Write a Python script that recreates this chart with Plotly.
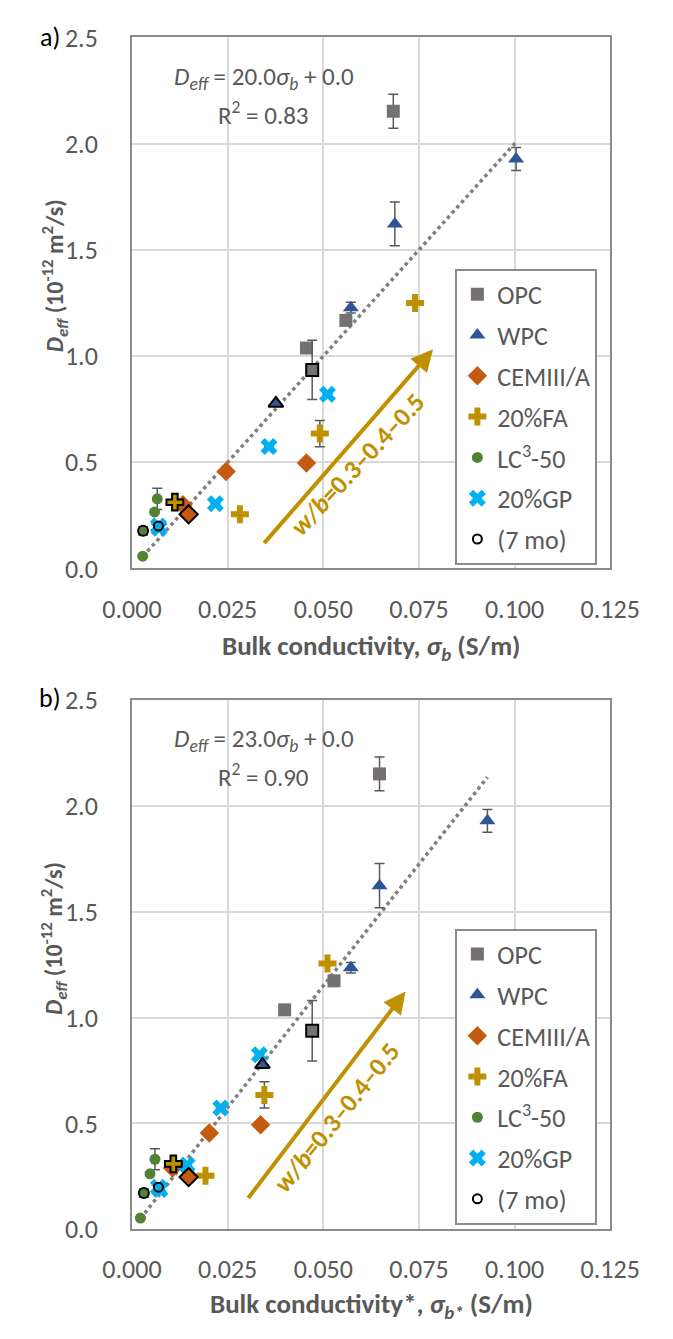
import plotly.graph_objects as go

# ---------------- data (panel a: bulk conductivity) ----------------
OPC_A_X = [0.0683, 0.0559, 0.0456]
OPC_A_Y = [2.153, 1.168, 1.038]
OPC_A_E = [0.08, 0.0, 0.0]
WPC_A_X = [0.1004, 0.0687, 0.0572]
WPC_A_Y = [1.928, 1.622, 1.228]
WPC_A_E = [0.054, 0.103, 0.025]
CEM_A_X = [0.0456, 0.0246, 0.0133]
CEM_A_Y = [0.497, 0.457, 0.300]
CEM_A_E = [0.0, 0.02, 0.0]
FA_A_X = [0.0740, 0.0491, 0.0282]
FA_A_Y = [1.250, 0.635, 0.255]
FA_A_E = [0.0, 0.062, 0.0]
LC3_A_X = [0.0066, 0.0059, 0.0028]
LC3_A_Y = [0.328, 0.266, 0.058]
LC3_A_E = [0.05, 0.0, 0.0]
GP_A_X = [0.0511, 0.0358, 0.0218, 0.0071]
GP_A_Y = [0.820, 0.574, 0.305, 0.189]
GP_A_E = [0.0, 0.0, 0.0, 0.0]
# 7-month points (one per binder)
M7_A_X = {"OPC": [0.0471], "WPC": [0.0376], "CEM": [0.0148], "FA": [0.0112], "LC3": [0.0029], "GP": [0.0069]}
M7_A_Y = {"OPC": [0.935], "WPC": [0.777], "CEM": [0.255], "FA": [0.312], "LC3": [0.177], "GP": [0.200]}
M7_A_E = {"OPC": [0.14], "WPC": [0.0], "CEM": [0.0], "FA": [0.0], "LC3": [0.02], "GP": [0.0]}

# ---------------- data (panel b: bulk conductivity*) ----------------
OPC_B_X = [0.0647, 0.0528, 0.0399]
OPC_B_Y = [2.152, 1.174, 1.037]
OPC_B_E = [0.08, 0.0, 0.0]
WPC_B_X = [0.0929, 0.0647, 0.0572]
WPC_B_Y = [1.930, 1.624, 1.236]
WPC_B_E = [0.054, 0.104, 0.025]
CEM_B_X = [0.0336, 0.0202, 0.0106]
CEM_B_Y = [0.494, 0.455, 0.290]
CEM_B_E = [0.0, 0.02, 0.0]
FA_B_X = [0.0511, 0.0346, 0.0192]
FA_B_Y = [1.256, 0.635, 0.253]
FA_B_E = [0.0, 0.062, 0.0]
LC3_B_X = [0.0060, 0.0047, 0.0022]
LC3_B_Y = [0.331, 0.262, 0.053]
LC3_B_E = [0.05, 0.0, 0.0]
GP_B_X = [0.0333, 0.0232, 0.0144, 0.0073]
GP_B_Y = [0.825, 0.573, 0.304, 0.188]
GP_B_E = [0.0, 0.0, 0.0, 0.0]
M7_B_X = {"OPC": [0.0471], "WPC": [0.0341], "CEM": [0.0148], "FA": [0.0108], "LC3": [0.0031], "GP": [0.0069]}
M7_B_Y = {"OPC": [0.938], "WPC": [0.778], "CEM": [0.247], "FA": [0.309], "LC3": [0.171], "GP": [0.199]}
M7_B_E = {"OPC": [0.143], "WPC": [0.0], "CEM": [0.0], "FA": [0.0], "LC3": [0.02], "GP": [0.0]}

SLOPE_A, R2_A = 20.0, 0.83
SLOPE_B, R2_B = 23.0, 0.90

X_TICKS = [0.000, 0.025, 0.050, 0.075, 0.100, 0.125]
Y_TICKS = [0.0, 0.5, 1.0, 1.5, 2.0, 2.5]

SERIES = ["OPC", "WPC", "CEM", "FA", "LC3", "GP"]
NAMES = {"OPC": "OPC", "WPC": "WPC", "CEM": "CEMIII/A", "FA": "20%FA",
         "LC3": "LC<sup>3</sup>-50", "GP": "20%GP"}
COLORS = {"OPC": "#767171", "WPC": "#2F5597", "CEM": "#C55A11", "FA": "#BF9000",
          "LC3": "#548235", "GP": "#00B0F0"}
SYMBOLS = {"OPC": "square", "WPC": "triangle-up", "CEM": "diamond", "FA": "cross",
           "LC3": "circle", "GP": "x"}
SIZES = {"OPC": 13, "WPC": 14, "CEM": 15, "FA": 15, "LC3": 11, "GP": 15}

FONT = "Carlito, Lato, sans-serif"
GREY = "#595959"
W, H = 673, 1339

fig = go.Figure()

panels = [
    dict(xa="x", ya="y", leg="legend",
         data={"OPC": (OPC_A_X, OPC_A_Y, OPC_A_E), "WPC": (WPC_A_X, WPC_A_Y, WPC_A_E),
               "CEM": (CEM_A_X, CEM_A_Y, CEM_A_E), "FA": (FA_A_X, FA_A_Y, FA_A_E),
               "LC3": (LC3_A_X, LC3_A_Y, LC3_A_E), "GP": (GP_A_X, GP_A_Y, GP_A_E)},
         m7=(M7_A_X, M7_A_Y, M7_A_E), slope=SLOPE_A),
    dict(xa="x2", ya="y2", leg="legend2",
         data={"OPC": (OPC_B_X, OPC_B_Y, OPC_B_E), "WPC": (WPC_B_X, WPC_B_Y, WPC_B_E),
               "CEM": (CEM_B_X, CEM_B_Y, CEM_B_E), "FA": (FA_B_X, FA_B_Y, FA_B_E),
               "LC3": (LC3_B_X, LC3_B_Y, LC3_B_E), "GP": (GP_B_X, GP_B_Y, GP_B_E)},
         m7=(M7_B_X, M7_B_Y, M7_B_E), slope=SLOPE_B),
]

for p in panels:
    # trendline through origin spanning the data
    allx = []
    for s in SERIES:
        allx += p["data"][s][0] + p["m7"][0][s]
    xmin, xmax = min(allx), max(allx)
    fig.add_trace(go.Scatter(x=[xmin, xmax], y=[p["slope"] * xmin, p["slope"] * xmax],
                             mode="lines", line=dict(color="#7F7F7F", width=3.5, dash="dot"),
                             showlegend=False, xaxis=p["xa"], yaxis=p["ya"], hoverinfo="skip"))
    for s in SERIES:
        xs, ys, es = p["data"][s]
        fig.add_trace(go.Scatter(
            x=xs, y=ys, mode="markers", name=NAMES[s], legend=p["leg"], legendgroup=s + p["leg"],
            marker=dict(symbol=SYMBOLS[s], color=COLORS[s], size=SIZES[s], line=dict(width=0)),
            error_y=dict(type="data", array=es, color=GREY, thickness=1.5, width=5, visible=True),
            xaxis=p["xa"], yaxis=p["ya"]))
    for s in SERIES:
        mx, my, me = p["m7"][0][s], p["m7"][1][s], p["m7"][2][s]
        if s == "GP":
            fig.add_trace(go.Scatter(
                x=mx, y=my, mode="markers", showlegend=False,
                marker=dict(symbol="x", color=COLORS[s], size=15, line=dict(width=0)),
                xaxis=p["xa"], yaxis=p["ya"]))
            fig.add_trace(go.Scatter(
                x=mx, y=my, mode="markers", showlegend=False,
                marker=dict(symbol="circle", color=COLORS[s], size=9, line=dict(width=2, color="black")),
                xaxis=p["xa"], yaxis=p["ya"]))
        else:
            fig.add_trace(go.Scatter(
                x=mx, y=my, mode="markers", showlegend=False,
                marker=dict(symbol=SYMBOLS[s], color=COLORS[s], size=SIZES[s] - 1,
                            line=dict(width=2, color="black")),
                error_y=dict(type="data", array=me, color=GREY, thickness=1.5, width=5, visible=True),
                xaxis=p["xa"], yaxis=p["ya"]))
    fig.add_trace(go.Scatter(
        x=[None], y=[None], mode="markers", name="(7 mo)", legend=p["leg"], legendgroup="m7" + p["leg"],
        marker=dict(symbol="circle", color="white", size=9, line=dict(width=2, color="black")),
        xaxis=p["xa"], yaxis=p["ya"]))

xdom = [112 / W, 637 / W]
ya_dom = [1 - 566 / H, 1 - 22 / H]
yb_dom = [1 - 1243 / H, 1 - 701 / H]

axis_common = dict(showgrid=True, gridcolor="#D9D9D9", gridwidth=1.5, zeroline=False,
                   showline=True, linecolor="#8C8C8C", linewidth=2, mirror=True,
                   ticks="", tickfont=dict(family=FONT, size=26, color=GREY))
legend_common = dict(x=467 / W, xanchor="left", yanchor="top", bgcolor="white",
                     bordercolor="#8C8C8C", borderwidth=2, font=dict(family=FONT, size=26, color=GREY),
                     tracegroupgap=4, itemsizing="trace")
fig.update_layout(
    width=W, height=H, margin=dict(l=0, r=0, t=0, b=0),
    paper_bgcolor="white", plot_bgcolor="white", font=dict(family=FONT, color=GREY),
    xaxis=dict(domain=xdom, anchor="y", range=[0, 0.125], tickvals=X_TICKS, tickformat=".3f",
               ticklabelstandoff=16, **axis_common),
    yaxis=dict(domain=ya_dom, anchor="x", range=[0, 2.5], tickvals=Y_TICKS, tickformat=".1f",
               ticklabelstandoff=27, **axis_common),
    xaxis2=dict(domain=xdom, anchor="y2", range=[0, 0.125], tickvals=X_TICKS, tickformat=".3f",
                ticklabelstandoff=16, **axis_common),
    yaxis2=dict(domain=yb_dom, anchor="x2", range=[0, 2.5], tickvals=Y_TICKS, tickformat=".1f",
                ticklabelstandoff=27, **axis_common),
    legend=dict(y=1 - 259 / H, **legend_common),
    legend2=dict(y=1 - 935 / H, **legend_common),
)

C = dict(xanchor="center", yanchor="middle", showarrow=False)
ann = []
# panel labels
ann.append(dict(xref="paper", yref="paper", x=22 / W, y=1 - 22 / H, text="a)",
                font=dict(family=FONT, size=26, color="black"), **C))
ann.append(dict(xref="paper", yref="paper", x=22 / W, y=1 - 699 / H, text="b)",
                font=dict(family=FONT, size=26, color="black"), **C))
ytitle = "<b><i>D</i><sub><i>eff</i></sub> (10<sup>-12</sup> m<sup>2</sup>/s)</b>"
for yc in [266, 945]:
    ann.append(dict(xref="paper", yref="paper", x=27 / W, y=1 - yc / H, text=ytitle, textangle=-90,
                    font=dict(family=FONT, size=24, color=GREY), **C))
ann.append(dict(xref="paper", yref="paper", x=374.5 / W, y=1 - 647 / H,
                text="<b>Bulk conductivity, <i>σ</i><sub><i>b</i></sub> (S/m)</b>",
                font=dict(family=FONT, size=27, color=GREY), **C))
ann.append(dict(xref="paper", yref="paper", x=374.5 / W, y=1 - 1321 / H,
                text="<b>Bulk conductivity*, <i>σ</i><sub><i>b*</i></sub> (S/m)</b>",
                font=dict(family=FONT, size=27, color=GREY), **C))
# equations
for xr, yr, slope, r2, y1, y2 in [("x", "y", SLOPE_A, R2_A, 2.31, 2.142), ("x2", "y2", SLOPE_B, R2_B, 2.313, 2.145)]:
    ann.append(dict(xref=xr, yref=yr, x=0.0345, y=y1,
                    text=f"<i>D</i><sub><i>eff</i></sub> = {slope:.1f}<i>σ</i><sub><i>b</i></sub> + 0.0",
                    font=dict(family=FONT, size=25, color=GREY), **C))
    ann.append(dict(xref=xr, yref=yr, x=0.0345, y=y2,
                    text=f"R<sup>2</sup> = {r2:.2f}", font=dict(family=FONT, size=25, color=GREY), **C))
# arrows with w/b labels
GOLD = "#BF9000"
for xr, yr, tail, head, tpos, ang in [("x", "y", (0.0342, 0.112), (0.0787, 1.032), (0.0590, 0.49), -47),
                                      ("x2", "y2", (0.0301, 0.141), (0.0715, 1.124), (0.0535, 0.53), -51)]:
    ann.append(dict(xref=xr, yref=yr, axref=xr, ayref=yr, x=head[0], y=head[1], ax=tail[0], ay=tail[1],
                    showarrow=True, arrowhead=2, arrowsize=1.1, arrowwidth=4, arrowcolor=GOLD, text=""))
    ann.append(dict(xref=xr, yref=yr, x=tpos[0], y=tpos[1], textangle=ang,
                    text="<b><i>w/b</i>=0.3–0.4–0.5</b>", font=dict(family=FONT, size=26, color=GOLD), **C))
fig.update_layout(annotations=ann)

fig.write_html("out.html")
